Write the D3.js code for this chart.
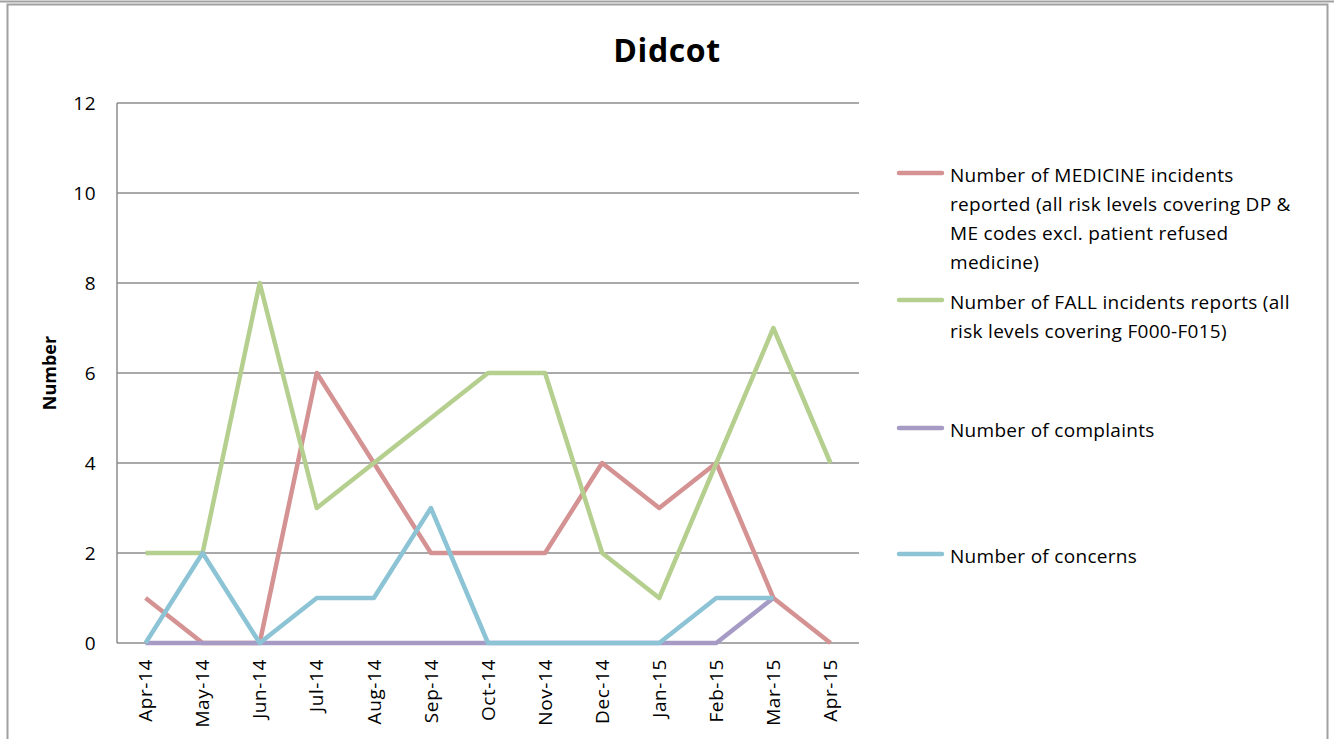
<!DOCTYPE html>
<html>
<head>
<meta charset="utf-8">
<script src="https://cdn.jsdelivr.net/npm/d3@7"></script>
<style>
  body { margin: 0; background: #fff; }
  svg { display: block; font-family: "Open Sans", Lato, sans-serif; }
</style>
</head>
<body>
<svg id="chart" width="1334" height="739"></svg>
<script>
document.addEventListener('DOMContentLoaded', () => {
    'use strict';

    const months = ['Apr-14', 'May-14', 'Jun-14', 'Jul-14', 'Aug-14', 'Sep-14', 'Oct-14',
        'Nov-14', 'Dec-14', 'Jan-15', 'Feb-15', 'Mar-15', 'Apr-15'];
    const medicine = [1, 0, 0, 6, 4, 2, 2, 2, 4, 3, 4, 1, 0];
    const falls = [2, 2, 8, 3, 4, 5, 6, 6, 2, 1, 4, 7, 4];
    const complaints = [0, 0, 0, 0, 0, 0, 0, 0, 0, 0, 0, 1, null];
    const concerns = [0, 2, 0, 1, 1, 3, 0, 0, 0, 0, 1, 1, null];
    const yTicks = [0, 2, 4, 6, 8, 10, 12];

    const series = [
        { values: medicine, color: '#d49293',
          label: ['Number of MEDICINE incidents', 'reported (all risk levels covering DP &',
                  'ME codes excl. patient refused', 'medicine)'], legendY: 175 },
        { values: falls, color: '#b5cf8f',
          label: ['Number of FALL incidents reports (all', 'risk levels covering F000-F015)'], legendY: 302 },
        { values: complaints, color: '#a69bc4', label: ['Number of complaints'], legendY: 430 },
        { values: concerns, color: '#8cc4d6', label: ['Number of concerns'], legendY: 556 }
    ];

    let svg = d3.select('#chart');

    // Outer frame, like the spreadsheet chart border.
    svg.append('line')
        .attr('x1', 0).attr('x2', 1334).attr('y1', 1.5).attr('y2', 1.5)
        .attr('stroke', '#a0a0a0').attr('stroke-width', 2);
    svg.append('rect')
        .attr('x', 7.5).attr('y', 4.5).attr('width', 1320).attr('height', 760)
        .attr('fill', 'none').attr('stroke', '#a0a0a0').attr('stroke-width', 2);

    let plot = { left: 117, right: 859, top: 103, bottom: 643 };

    let x = d3.scaleBand().domain(months).range([plot.left, plot.right]);
    let y = d3.scaleLinear().domain([0, 12]).range([plot.bottom, plot.top]);

    // Gridlines
    svg.append('g')
        .selectAll('line')
        .data(yTicks)
      .enter().append('line')
        .attr('x1', plot.left).attr('x2', plot.right)
        .attr('y1', d => y(d)).attr('y2', d => y(d))
        .attr('stroke', '#8c8c8c').attr('stroke-width', 1.5);

    svg.append('line')
        .attr('x1', plot.left).attr('x2', plot.left)
        .attr('y1', plot.top).attr('y2', plot.bottom)
        .attr('stroke', '#8c8c8c').attr('stroke-width', 1.5);

    // Y tick labels
    svg.append('g')
        .selectAll('text')
        .data(yTicks)
      .enter().append('text')
        .attr('x', 96).attr('y', d => y(d))
        .attr('dy', '0.35em')
        .attr('text-anchor', 'end')
        .style('font-size', '19px')
        .style('letter-spacing', '0.5px')
        .text(d => d);

    // X tick labels, rotated
    svg.append('g')
        .selectAll('text')
        .data(months)
      .enter().append('text')
        .attr('transform', d => 'translate(' + (x(d) + x.bandwidth() / 2) + ',659) rotate(-90)')
        .attr('dy', '0.35em')
        .attr('text-anchor', 'end')
        .style('font-size', '19px')
        .style('letter-spacing', '0.6px')
        .text(d => d);

    // Lines
    let line = d3.line()
        .defined(d => d.v !== null)
        .x(d => x(d.m) + x.bandwidth() / 2)
        .y(d => y(d.v));

    svg.append('g')
        .selectAll('path')
        .data(series)
      .enter().append('path')
        .attr('d', s => line(s.values.map((v, i) => ({ m: months[i], v: v }))))
        .attr('fill', 'none')
        .attr('stroke', s => s.color)
        .attr('stroke-width', 4.5)
        .attr('stroke-linejoin', 'round');

    // Title and axis title
    svg.append('text')
        .attr('x', 667).attr('y', 62)
        .attr('text-anchor', 'middle')
        .style('font-size', '32px').style('font-weight', 'bold')
        .style('letter-spacing', '0.6px')
        .text('Didcot');

    svg.append('text')
        .attr('transform', 'translate(50,373) rotate(-90)')
        .attr('dy', '0.35em')
        .attr('text-anchor', 'middle')
        .style('font-size', '18px').style('font-weight', 'bold')
        .text('Number');

    // Legend
    let legend = svg.append('g')
        .selectAll('g')
        .data(series)
      .enter().append('g');

    legend.append('line')
        .attr('x1', 899).attr('x2', 942)
        .attr('y1', s => s.legendY - 2).attr('y2', s => s.legendY - 2)
        .attr('stroke', s => s.color)
        .attr('stroke-width', 4.5)
        .attr('stroke-linecap', 'round');

    legend.append('text')
        .style('font-size', '19px')
        .style('letter-spacing', '0.3px')
        .selectAll('tspan')
        .data(s => s.label.map((t, i) => ({ t: t, y: s.legendY + i * 29 })))
      .enter().append('tspan')
        .attr('x', 950)
        .attr('y', d => d.y)
        .attr('dy', '0.35em')
        .text(d => d.t);
});
</script>
</body>
</html>
